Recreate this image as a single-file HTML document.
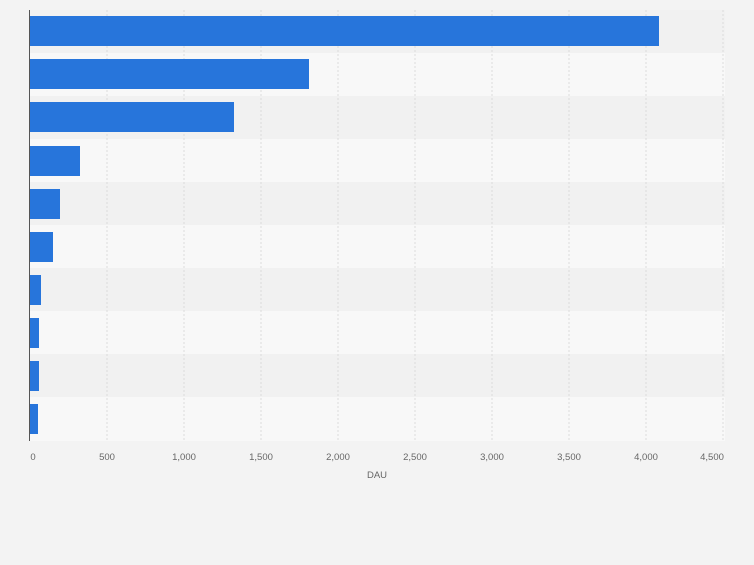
<!DOCTYPE html>
<html><head><style>
html,body{margin:0;padding:0;background:#f3f3f3;}
</style></head><body>
<svg width="754" height="560" xmlns="http://www.w3.org/2000/svg" font-family="Liberation Sans, sans-serif">
<rect width="754" height="560" fill="#f3f3f3"/>
<g>
<rect x="30" y="10" width="695" height="43" fill="#f1f1f1"/>
<rect x="30" y="53" width="695" height="43" fill="#f8f8f8"/>
<rect x="30" y="96" width="695" height="43" fill="#f1f1f1"/>
<rect x="30" y="139" width="695" height="43" fill="#f8f8f8"/>
<rect x="30" y="182" width="695" height="43" fill="#f1f1f1"/>
<rect x="30" y="225" width="695" height="43" fill="#f8f8f8"/>
<rect x="30" y="268" width="695" height="43" fill="#f1f1f1"/>
<rect x="30" y="311" width="695" height="43" fill="#f8f8f8"/>
<rect x="30" y="354" width="695" height="43" fill="#f1f1f1"/>
<rect x="30" y="397" width="695" height="44" fill="#f8f8f8"/>
</g>
<g stroke="#dcdcdc" stroke-width="1" stroke-dasharray="2,2">
<line x1="107" y1="10" x2="107" y2="441"/>
<line x1="184" y1="10" x2="184" y2="441"/>
<line x1="261" y1="10" x2="261" y2="441"/>
<line x1="338" y1="10" x2="338" y2="441"/>
<line x1="415" y1="10" x2="415" y2="441"/>
<line x1="492" y1="10" x2="492" y2="441"/>
<line x1="569" y1="10" x2="569" y2="441"/>
<line x1="646" y1="10" x2="646" y2="441"/>
<line x1="723" y1="10" x2="723" y2="441"/>
</g>
<g fill="#2775db">
<rect x="30" y="16" width="629" height="30"/>
<rect x="30" y="59" width="279" height="30"/>
<rect x="30" y="102" width="204" height="30"/>
<rect x="30" y="146" width="50" height="30"/>
<rect x="30" y="189" width="30" height="30"/>
<rect x="30" y="232" width="23" height="30"/>
<rect x="30" y="275" width="11" height="30"/>
<rect x="30" y="318" width="9" height="30"/>
<rect x="30" y="361" width="9" height="30"/>
<rect x="30" y="404" width="8" height="30"/>
</g>
<line x1="29.5" y1="10" x2="29.5" y2="441" stroke="#555" stroke-width="1"/>
<g font-size="9.5" fill="#666" text-anchor="middle">
<text x="33" y="460">0</text>
<text x="107" y="460">500</text>
<text x="184" y="460">1,000</text>
<text x="261" y="460">1,500</text>
<text x="338" y="460">2,000</text>
<text x="415" y="460">2,500</text>
<text x="492" y="460">3,000</text>
<text x="569" y="460">3,500</text>
<text x="646" y="460">4,000</text>
<text x="712" y="460">4,500</text>
<text x="377" y="478">DAU</text>
</g>
</svg>
</body></html>
